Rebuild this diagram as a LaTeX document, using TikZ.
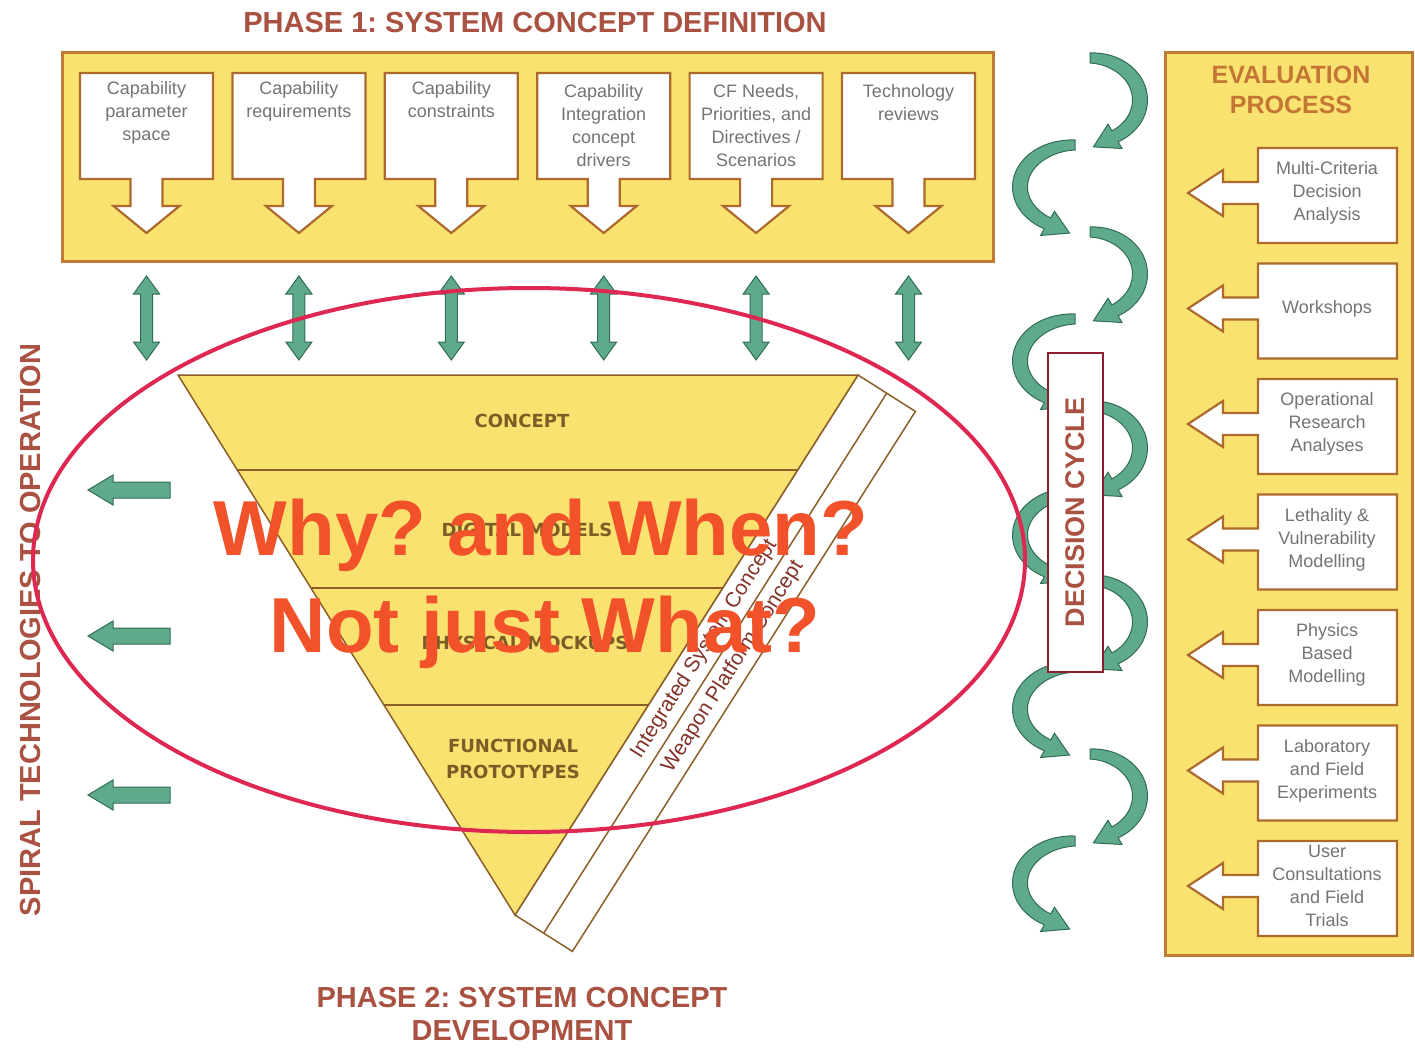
\documentclass[tikz,border=0pt]{standalone}
\usepackage{fontspec}
\setmainfont{Liberation Sans}
\newfontfamily\labfont{DejaVu Sans}
\usetikzlibrary{calc,shapes.geometric}
\frenchspacing

\definecolor{panelY}{RGB}{250,226,112}
\definecolor{panelB}{RGB}{192,122,52}
\definecolor{boxB}{RGB}{172,106,44}
\definecolor{grayT}{RGB}{115,115,120}
\definecolor{headR}{RGB}{170,82,66}
\definecolor{evalH}{RGB}{196,118,52}
\definecolor{grF}{RGB}{96,170,140}
\definecolor{grD}{RGB}{48,108,86}
\definecolor{triB}{RGB}{140,95,40}
\definecolor{triT}{RGB}{125,92,38}
\definecolor{stripT}{RGB}{130,50,40}
\definecolor{ellR}{RGB}{222,40,82}
\definecolor{bigR}{RGB}{242,82,42}
\definecolor{dcB}{RGB}{140,30,45}

\newcommand\cycarc[4]{%
  \pgfmathsetmacro\ce{150}%
  \pgfmathsetmacro\pxx{#1+(#3)*(#4)*sin(\ce)}%
  \pgfmathsetmacro\pyy{#2-42*cos(\ce)}%
  \pgfmathsetmacro\tgx{(#3)*(#4)*cos(\ce)}%
  \pgfmathsetmacro\tgy{42*sin(\ce)}%
  \pgfmathsetmacro\tgn{sqrt(\tgx*\tgx+\tgy*\tgy)}%
  \pgfmathsetmacro\tipx{\pxx+24*\tgx/\tgn}%
  \pgfmathsetmacro\tipy{\pyy+24*\tgy/\tgn}%
  \pgfmathsetmacro\hox{#1+(#3)*(#4+14)*sin(\ce)}%
  \pgfmathsetmacro\hoy{#2-(42+14)*cos(\ce)}%
  \pgfmathsetmacro\hix{#1+(#3)*(#4-14)*sin(\ce)}%
  \pgfmathsetmacro\hiy{#2-(42-14)*cos(\ce)}%
  \filldraw[cycarrow] plot[variable=\myt,domain=0:\ce,samples=30]
    ({#1+(#3)*(#4+5+2.5*sin(\myt))*sin(\myt)},{#2-(47+2.5*sin(\myt))*cos(\myt)})
    -- (\hox,\hoy) -- (\tipx,\tipy) -- (\hix,\hiy)
    -- plot[variable=\myt,domain=\ce:0,samples=30]
    ({#1+(#3)*(#4-5-2.5*sin(\myt))*sin(\myt)},{#2-(37-2.5*sin(\myt))*cos(\myt)})
    -- cycle;%
}

\begin{document}
\begin{tikzpicture}[x=1pt,y=-1pt,
  panelbox/.style={fill=panelY,draw=panelB,line width=3pt},
  callout/.style={fill=white,draw=boxB,line width=2.2pt,line join=miter},
  boxtext/.style={inner sep=0pt,align=center,text=grayT,font=\fontsize{18}{23}\selectfont},
  dblarrow/.style={fill=grF,draw=grD,line width=1pt},
  cycarrow/.style={fill=grF,draw=grD,line width=1pt},
  heading/.style={inner sep=0pt,align=center,text=headR,font=\bfseries\fontsize{29}{33}\selectfont},
  evalhead/.style={inner sep=0pt,align=center,text=evalH,font=\bfseries\fontsize{25}{30}\selectfont},
  tri/.style={fill=panelY,draw=triB,line width=1.5pt},
  strip/.style={fill=white,draw=triB,line width=1.5pt},
  trilabel/.style={inner sep=0pt,align=center,text=triT,font=\labfont\bfseries\fontsize{18}{26}\selectfont},
  striptext/.style={inner sep=0pt,text=stripT,font=\fontsize{21}{24}\selectfont},
  bigtext/.style={inner sep=0pt,text=bigR,font=\bfseries\fontsize{78}{80}\selectfont},
]
\useasboundingbox[fill=white] (0,0) rectangle (1415,1051);

% ---------- Phase 1 ----------
\node[heading,anchor=base] (t1) at (535,33) {PHASE 1: SYSTEM CONCEPT DEFINITION};
\draw[panelbox] (62,53) rectangle (993,261);
\foreach \i/\txt in {0/{Capability\\parameter\\space},1/{Capability\\requirements},2/{Capability\\constraints},3/{Capability\\Integration\\concept\\drivers},4/{CF Needs,\\Priorities, and\\Directives /\\Scenarios},5/{Technology\\reviews}}{
  \pgfmathsetmacro\cx{146.5+152.4*\i}
  \pgfmathsetmacro\tyy{ifthenelse(\i>2,84,81)}
  \draw[callout] ({\cx-66.5},73) -- ({\cx+66.5},73) -- ({\cx+66.5},179) -- ({\cx+16},179) -- ({\cx+16},206) -- ({\cx+33},206) -- (\cx,233) -- ({\cx-33},206) -- ({\cx-16},206) -- ({\cx-16},179) -- ({\cx-66.5},179) -- cycle;
  \node[boxtext,anchor=north] (top\i) at (\cx,\tyy) {\txt};
  \draw[dblarrow] (\cx,276) -- ({\cx+13},294) -- ({\cx+6},294) -- ({\cx+6},342) -- ({\cx+13},342) -- (\cx,360) -- ({\cx-13},342) -- ({\cx-6},342) -- ({\cx-6},294) -- ({\cx-13},294) -- cycle;
}

% ---------- Funnel ----------
\coordinate (tl) at (178,375);
\coordinate (tr) at (858,375);
\coordinate (ap) at (515,915);
\coordinate (s1t) at (886.7,393.2);
\coordinate (s1b) at (543.7,933.2);
\coordinate (s2t) at (915.4,411.4);
\coordinate (s2b) at (572.4,951.4);
\draw[strip] (tr) -- (s2t) -- (s2b) -- (ap) -- cycle;
\draw[triB,line width=1.5pt] (s1t) -- (s1b);
\draw[tri] (tl) -- (tr) -- (ap) -- cycle;
\foreach \f in {0.1759,0.3944,0.6111}{
  \draw[triB,line width=1.5pt] ($(tl)!\f!(ap)$) -- ($(tr)!\f!(ap)$);
}
\node[trilabel] (lc) at (522,421) {CONCEPT};
\node[trilabel] (ld) at (527,530) {DIGITAL MODELS};
\node[trilabel] (lp) at (525,643) {PHYSICAL MOCKUPS};
\node[trilabel] (lf) at (513,759) {FUNCTIONAL\\PROTOTYPES};
\node[striptext,rotate=57.6] (isc) at ($(tr)!0.49!(ap)+(14.3,9.1)$) {Integrated System Concept};
\node[striptext,rotate=57.6] (wpc) at ($(tr)!0.49!(ap)+(43,27.3)$) {Weapon Platform Concept};

% ---------- Left side ----------
\foreach \yy in {490,636,795}{
  \draw[dblarrow] (88,\yy) -- (113,{\yy-15}) -- (113,{\yy-8}) -- (170,{\yy-8}) -- (170,{\yy+8}) -- (113,{\yy+8}) -- (113,{\yy+15}) -- cycle;
}
\node[heading,rotate=90] (spiral) at (31,630) {SPIRAL TECHNOLOGIES TO OPERATION};

% ---------- Phase 2 ----------
\node[heading,anchor=north] (t2) at (522,987) {PHASE 2: SYSTEM CONCEPT\\DEVELOPMENT};

% ---------- Decision cycle ----------
\foreach \i in {0,...,9}{
  \pgfmathsetmacro\cyy{100+87*\i}
  \ifodd\i \cycarc{1075}{\cyy}{-1}{55}\else \cycarc{1090}{\cyy}{1}{50}\fi
}
\node[draw=dcB,line width=2.5pt,fill=white,minimum width=319pt,minimum height=55pt,rotate=90,
      text=headR,font=\bfseries\fontsize{27}{30}\selectfont] (dc) at (1075.5,512.5) {DECISION CYCLE};

% ---------- Evaluation process ----------
\draw[panelbox] (1165,53) rectangle (1412,955);
\node[evalhead,anchor=north] (ev) at (1291,66) {EVALUATION\\PROCESS};
\foreach \i/\txt in {0/{Multi-Criteria\\Decision\\Analysis},1/{Workshops},2/{Operational\\Research\\Analyses},3/{Lethality \&\\Vulnerability\\Modelling},4/{Physics\\Based\\Modelling},5/{Laboratory\\and Field\\Experiments},6/{User\\Consultations\\and Field\\Trials}}{
  \pgfmathsetmacro\yt{148+115.5*\i}
  \pgfmathsetmacro\yb{\yt+95}
  \pgfmathsetmacro\ya{\yt+45}
  \draw[callout] (1258,\yt) -- (1397,\yt) -- (1397,\yb) -- (1258,\yb) -- (1258,{\ya+11}) -- (1223,{\ya+11}) -- (1223,{\ya+23}) -- (1188,\ya) -- (1223,{\ya-23}) -- (1223,{\ya-11}) -- (1258,{\ya-11}) -- cycle;
  \node[boxtext] (ev\i) at (1327,{\yt+45}) {\txt};
}

% ---------- Overlay ----------
\node[draw=ellR,line width=4pt,ellipse,minimum width=992pt,minimum height=544pt,inner sep=0pt] (ell) at (529,560) {};
\node[bigtext,anchor=base] (why) at (541,555) {Why? and When?};
\node[bigtext,anchor=base] (notw) at (545,652) {Not just What?};
\end{tikzpicture}
\end{document}
